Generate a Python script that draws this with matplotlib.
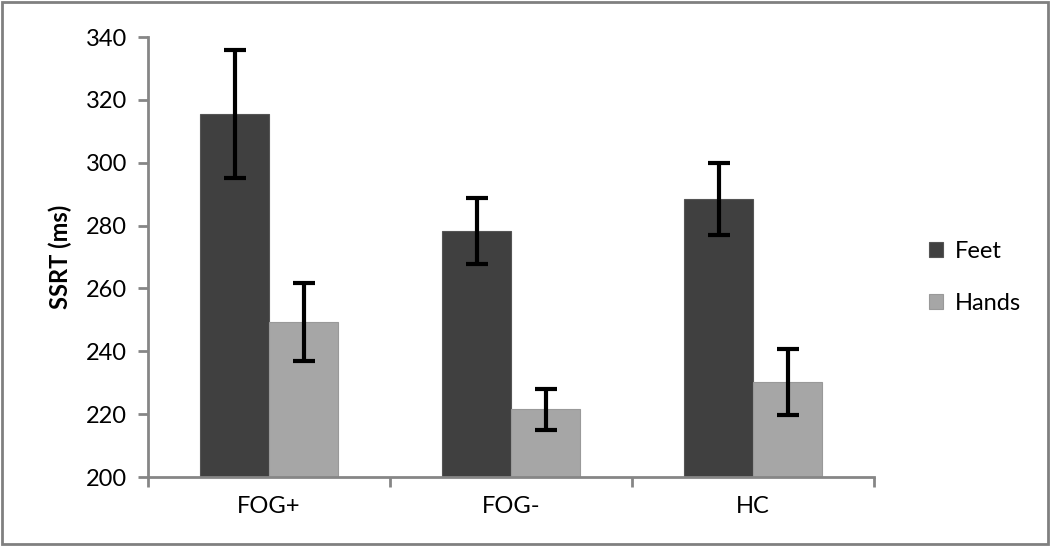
import matplotlib
matplotlib.use("Agg")
import matplotlib.pyplot as plt
from matplotlib.patches import Rectangle
import numpy as np

categories = ["FOG+", "FOG-", "HC"]
feet = [315.5, 278.3, 288.5]
feet_err = [20.3, 10.6, 11.4]
hands = [249.4, 221.5, 230.1]
hands_err = [12.4, 6.6, 10.5]
yticks = [200, 220, 240, 260, 280, 300, 320, 340]

plt.rcParams['font.family'] = ['Lato', 'DejaVu Sans']

fig = plt.figure(figsize=(10.5, 5.46), dpi=100)
ax = fig.add_axes([148/1050, 1-477/546, (874-148)/1050, (477-37)/546])

x = np.arange(len(categories))
w = 69/242
ax.bar(x - w/2, feet, w, color="#404040", edgecolor="#555555", linewidth=0.8, label="Feet", zorder=2)
ax.bar(x + w/2, hands, w, color="#a6a6a6", edgecolor="#999999", linewidth=0.8, label="Hands", zorder=2)
ax.errorbar(x - w/2, feet, yerr=feet_err, fmt="none", ecolor="black", elinewidth=3, capsize=8, capthick=3, zorder=3)
ax.errorbar(x + w/2, hands, yerr=hands_err, fmt="none", ecolor="black", elinewidth=3, capsize=8, capthick=3, zorder=3)

ax.set_ylim(200, 340)
ax.set_xlim(-0.5, 2.5)
ax.set_yticks(yticks)
ax.set_xticks(x)
ax.set_xticklabels(categories)
ax.set_xticks([-0.5, 0.5, 1.5, 2.5], minor=True)
ax.tick_params(axis="x", which="major", length=0, labelsize=17, pad=14)
ax.tick_params(axis="x", which="minor", length=7, width=2, color="#868686", direction="out")
ax.tick_params(axis="y", length=7, width=2, color="#868686", labelsize=17, pad=8)
for s in ["top", "right"]:
    ax.spines[s].set_visible(False)
for s in ["left", "bottom"]:
    ax.spines[s].set_color("#868686")
    ax.spines[s].set_linewidth(2)
ax.set_ylabel("SSRT (ms)", fontsize=17, fontweight="bold", labelpad=10)

leg = fig.legend(loc="upper left", bbox_to_anchor=(908/1050, 1-220/546), frameon=False,
                 fontsize=17, handlelength=0.6, handleheight=0.6, labelspacing=1.3, handletextpad=0.5)

fig.patches.append(Rectangle((0.002, 0.003), 0.996, 0.994, transform=fig.transFigure,
                             fill=False, edgecolor="#808080", linewidth=2))

fig.savefig("out.png", dpi=100, facecolor="white")
